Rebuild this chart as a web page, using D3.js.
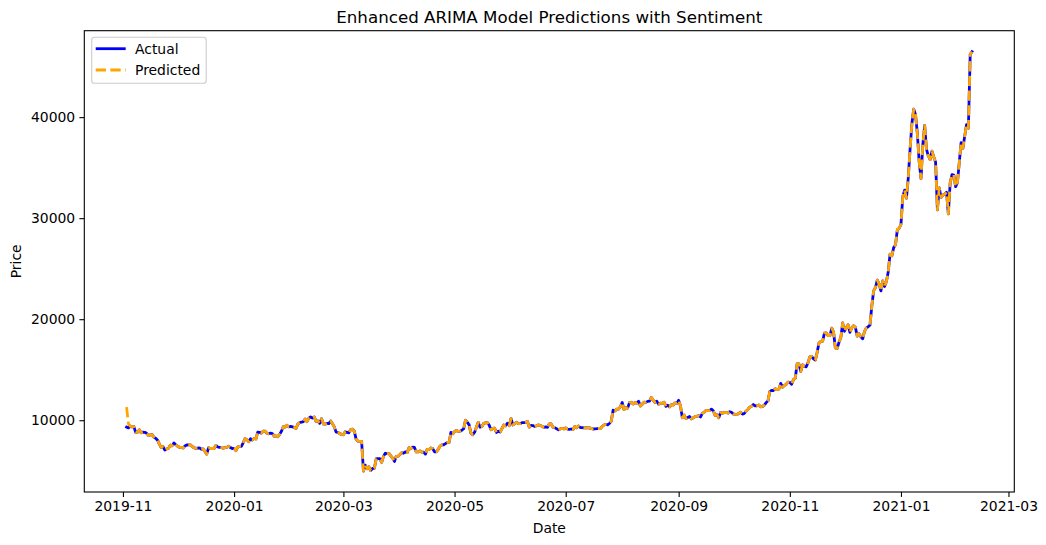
<!DOCTYPE html>
<html lang="en">
    <head>
        <meta charset="utf-8">
        <title>Enhanced ARIMA Model Predictions with Sentiment</title>
        <script src="https://d3js.org/d3.v7.min.js"></script>
        <style type="text/css">
            body { margin: 0; background: #fff; }
            text { font-family: "DejaVu Sans", sans-serif; fill: #000; }
        </style>
    </head>
    <body>
        <script type="text/javascript">

            const svgW = 1046;
            const svgH = 545;
            const plotL = 84.3, plotR = 1014.3, plotT = 30.7, plotB = 492;

            // one value per day, starting at this date
            const startDate = "2019-11-03";

            const actual = [
                // 2019-11 (from the 3rd)
                9324,9235,9412,9342,9360,8804,8813,9055,8757,8815,8808,8708,8491,8550,8577,8309,8206,8027,7642,7296,7397,7047,7146,7218,7531,7463,7761,7569,
                // 2019-12
                7424,7321,7320,7252,7448,7547,7556,7564,7400,7278,7217,7243,7269,7124,7152,6932,6640,7276,7202,7219,7191,7511,7355,7322,7275,7238,7290,7317,7422,7293,7193,
                // 2020-01
                7200,6985,7345,7410,7411,7770,8163,8080,7879,8166,8038,8192,8145,8828,8808,8723,8930,8915,8709,8660,8729,8678,8407,8445,8368,8597,8910,9358,9317,9509,9351,
                // 2020-02
                9393,9345,9294,9181,9614,9760,9805,9865,10117,9857,10208,10326,10215,10313,9889,9935,9691,10142,9634,9609,9687,9663,9924,9651,9342,8820,8785,8672,8599,
                // 2020-03
                8563,8869,8787,8755,9078,9123,8909,8108,7923,7910,7911,4971,5563,5200,5392,5014,5225,5238,6191,6198,6186,5830,6416,6734,6681,6716,6469,6243,5922,6429,6438,
                // 2020-04
                6606,6793,6733,6868,6791,7271,7176,7334,7302,6865,6859,6971,6845,6842,6642,7116,7096,7257,7189,6881,6880,7117,7429,7550,7569,7679,7795,7807,8801,8658,
                // 2020-05
                8864,8988,8897,8912,9004,9158,9998,9800,9540,8722,8561,8810,9310,9791,9316,9381,9680,9733,9775,9512,9059,9182,9210,8790,8907,8835,9181,9525,9439,9700,9461,
                // 2020-06
                10167,9529,9656,9800,9665,9653,9758,9771,9795,9870,9321,9480,9475,9386,9454,9538,9480,9411,9288,9332,9303,9648,9629,9313,9264,9162,9045,9143,9190,9137,
                // 2020-07
                9228,9123,9087,9132,9073,9375,9252,9428,9277,9278,9240,9276,9243,9243,9192,9132,9151,9159,9185,9164,9374,9525,9581,9536,9677,9905,10990,10912,11100,11111,11323,
                // 2020-08
                11759,11053,11246,11205,11747,11779,11601,11754,11675,11878,11410,11584,11784,11768,11865,11892,12254,11991,11758,11878,11592,11681,11664,11774,11366,11489,11323,11542,11506,11711,11680,
                // 2020-09
                11970,11414,10245,10511,10169,10280,10369,10131,10242,10363,10400,10442,10324,10680,10796,10974,10948,10944,11094,10938,10462,10539,10246,10760,10692,10750,10775,10709,10844,10784,
                // 2020-10
                10619,10575,10549,10669,10793,10604,10668,10915,11065,11296,11385,11555,11426,11430,11505,11322,11358,11484,11742,11917,12823,12965,12931,13108,13031,13075,13654,13271,13437,13546,13781,
                // 2020-11
                13737,13550,14029,14157,15579,15565,14833,15479,15332,15290,15701,16276,16317,16068,15955,16716,17645,17804,17817,18621,18642,18370,18364,19107,18732,17150,17108,17717,18177,19625,
                // 2020-12
                18802,19201,19445,18699,19154,19345,19191,18321,18553,18264,18058,18803,19142,19246,19417,21310,22805,23137,23869,23477,22803,23783,23241,23735,24665,26437,26272,27084,27362,28841,29002,
                // 2021-01
                29374,32127,32782,31971,33992,36824,39371,40797,40254,38356,35566,33922,37316,39187,36825,36178,35791,36630,36069,35547,30825,33005,32067,32289,32366,32569,30432,33466,34316,34269,33114,
                // 2021-02
                33537,35510,37472,36926,38144,39266,38903,46196,46481
            ];

            // the prediction sits almost on top of the actual line, except at the very start
            const predicted = [
                // 2019-11 (from the 3rd)
                11300,9650,9412,9342,9360,8804,8813,9055,8757,8815,8808,8708,8491,8550,8577,8309,8206,8027,7642,7296,7397,7047,7146,7218,7531,7463,7761,7569,
                // 2019-12
                7424,7321,7320,7252,7448,7547,7556,7564,7400,7278,7217,7243,7269,7124,7152,6932,6640,7276,7202,7219,7191,7511,7355,7322,7275,7238,7290,7317,7422,7293,7193,
                // 2020-01
                7200,6985,7345,7410,7411,7770,8163,8080,7879,8166,8038,8192,8145,8828,8808,8723,8930,8915,8709,8660,8729,8678,8407,8445,8368,8597,8910,9358,9317,9509,9351,
                // 2020-02
                9393,9345,9294,9181,9614,9760,9805,9865,10117,9857,10208,10326,10215,10313,9889,9935,9691,10142,9634,9609,9687,9663,9924,9651,9342,8820,8785,8672,8599,
                // 2020-03
                8563,8869,8787,8755,9078,9123,8909,8108,7923,7910,7911,4971,5563,5200,5392,5014,5225,5238,6191,6198,6186,5830,6416,6734,6681,6716,6469,6243,5922,6429,6438,
                // 2020-04
                6606,6793,6733,6868,6791,7271,7176,7334,7302,6865,6859,6971,6845,6842,6642,7116,7096,7257,7189,6881,6880,7117,7429,7550,7569,7679,7795,7807,8801,8658,
                // 2020-05
                8864,8988,8897,8912,9004,9158,9998,9800,9540,8722,8561,8810,9310,9791,9316,9381,9680,9733,9775,9512,9059,9182,9210,8790,8907,8835,9181,9525,9439,9700,9461,
                // 2020-06
                10167,9529,9656,9800,9665,9653,9758,9771,9795,9870,9321,9480,9475,9386,9454,9538,9480,9411,9288,9332,9303,9648,9629,9313,9264,9162,9045,9143,9190,9137,
                // 2020-07
                9228,9123,9087,9132,9073,9375,9252,9428,9277,9278,9240,9276,9243,9243,9192,9132,9151,9159,9185,9164,9374,9525,9581,9536,9677,9905,10990,10912,11100,11111,11323,
                // 2020-08
                11759,11053,11246,11205,11747,11779,11601,11754,11675,11878,11410,11584,11784,11768,11865,11892,12254,11991,11758,11878,11592,11681,11664,11774,11366,11489,11323,11542,11506,11711,11680,
                // 2020-09
                11970,11414,10245,10511,10169,10280,10369,10131,10242,10363,10400,10442,10324,10680,10796,10974,10948,10944,11094,10938,10462,10539,10246,10760,10692,10750,10775,10709,10844,10784,
                // 2020-10
                10619,10575,10549,10669,10793,10604,10668,10915,11065,11296,11385,11555,11426,11430,11505,11322,11358,11484,11742,11917,12823,12965,12931,13108,13031,13075,13654,13271,13437,13546,13781,
                // 2020-11
                13737,13550,14029,14157,15579,15565,14833,15479,15332,15290,15701,16276,16317,16068,15955,16716,17645,17804,17817,18621,18642,18370,18364,19107,18732,17150,17108,17717,18177,19625,
                // 2020-12
                18802,19201,19445,18699,19154,19345,19191,18321,18553,18264,18058,18803,19142,19246,19417,21310,22805,23137,23869,23477,22803,23783,23241,23735,24665,26437,26272,27084,27362,28841,29002,
                // 2021-01
                29374,32127,32782,31971,33992,36824,39371,40797,40254,38356,35566,33922,37316,39187,36825,36178,35791,36630,36069,35547,30825,33005,32067,32289,32366,32569,30432,33466,34316,34269,33114,
                // 2021-02
                33537,35510,37472,36926,38144,39266,38903,46196,46481
            ];

            const xTicks = ["2019-11", "2020-01", "2020-03", "2020-05", "2020-07", "2020-09", "2020-11", "2021-01", "2021-03"];
            const yTicks = [10000, 20000, 30000, 40000];

            const parseDay = d3.timeParse("%Y-%m-%d");
            const parseMonth = d3.timeParse("%Y-%m");
            const dates = d3.range(actual.length).map(i => d3.timeDay.offset(parseDay(startDate), i));

            // matplotlib style 5% margins
            const x0 = dates[0], x1 = dates[dates.length - 1];
            const xPad = (x1 - x0) * 0.05;
            const xScale = d3.scaleTime()
                             .domain([new Date(+x0 - xPad), new Date(+x1 + xPad)])
                             .range([plotL, plotR]);

            const yMin = Math.min(d3.min(actual), d3.min(predicted));
            const yMax = Math.max(d3.max(actual), d3.max(predicted));
            const yPad = (yMax - yMin) * 0.05;
            const yScale = d3.scaleLinear()
                             .domain([yMin - yPad, yMax + yPad])
                             .range([plotB, plotT]);

            const svg = d3.select("body")
                    .append("svg")
                    .attr("width", svgW)
                    .attr("height", svgH);

            svg.append("rect").attr("width", svgW).attr("height", svgH).attr("fill", "#fff");

            const bottomAxis = d3.axisBottom(xScale)
                                 .tickValues(xTicks.map(parseMonth))
                                 .tickFormat(d3.timeFormat("%Y-%m"))
                                 .tickSize(4.9)
                                 .tickPadding(4.2);
            const gx = svg.append("g")
                .attr("transform", "translate(0," + plotB + ")")
                .call(bottomAxis);

            const leftAxis = d3.axisLeft(yScale)
                               .tickValues(yTicks)
                               .tickFormat(d3.format("d"))
                               .tickSize(4.9)
                               .tickPadding(4.2);
            const gy = svg.append("g")
                .attr("transform", "translate(" + plotL + ",0)")
                .call(leftAxis);

            [gx, gy].forEach(g => {
                g.select(".domain").remove();
                g.selectAll(".tick line").attr("stroke", "#000").attr("stroke-width", 1.1);
                g.selectAll(".tick text").attr("font-size", "13.9px").attr("font-family", "DejaVu Sans, sans-serif").attr("fill", "#000");
            });

            const line = d3.line()
                           .x((d, i) => xScale(dates[i]))
                           .y(d => yScale(d));

            const plot = svg.append("g");
            plot.append("path")
                .datum(actual)
                .attr("d", line)
                .attr("fill", "none")
                .attr("stroke", "blue")
                .attr("stroke-width", 2.78)
                .attr("stroke-linejoin", "round")
                .attr("stroke-linecap", "square");

            plot.append("path")
                .datum(predicted)
                .attr("d", line)
                .attr("fill", "none")
                .attr("stroke", "orange")
                .attr("stroke-width", 2.78)
                .attr("stroke-linejoin", "round")
                .attr("stroke-dasharray", "10.3,4.4");

            // frame
            svg.append("rect")
                .attr("x", plotL).attr("y", plotT)
                .attr("width", plotR - plotL).attr("height", plotB - plotT)
                .attr("fill", "none").attr("stroke", "#000").attr("stroke-width", 1.1);

            svg.append("text")
                .attr("x", (plotL + plotR) / 2).attr("y", 22.5)
                .attr("text-anchor", "middle")
                .attr("font-size", "16.7px")
                .text("Enhanced ARIMA Model Predictions with Sentiment");

            svg.append("text")
                .attr("x", (plotL + plotR) / 2).attr("y", 533)
                .attr("text-anchor", "middle")
                .attr("font-size", "13.9px")
                .text("Date");

            svg.append("text")
                .attr("transform", "translate(21," + ((plotT + plotB) / 2) + ") rotate(-90)")
                .attr("text-anchor", "middle")
                .attr("font-size", "13.9px")
                .text("Price");

            // legend
            const legend = svg.append("g");
            legend.append("rect")
                .attr("x", 91.7).attr("y", 37.3)
                .attr("width", 114.5).attr("height", 46)
                .attr("rx", 2.8)
                .attr("fill", "#fff").attr("fill-opacity", 0.8)
                .attr("stroke", "#ccc").attr("stroke-width", 1.1);

            const legendItems = [
                {label: "Actual", color: "blue", dash: null},
                {label: "Predicted", color: "orange", dash: "10.3,4.4"}
            ];
            legendItems.forEach((item, i) => {
                const y = 48.7 + i * 21.3;
                legend.append("line")
                    .attr("x1", 95.7).attr("x2", 125.7)
                    .attr("y1", y).attr("y2", y)
                    .attr("stroke", item.color)
                    .attr("stroke-width", 2.78)
                    .attr("stroke-dasharray", item.dash);
                legend.append("text")
                    .attr("x", 135).attr("y", y + 5)
                    .attr("font-size", "13.9px")
                    .text(item.label);
            });

        </script>
    </body>
</html>
